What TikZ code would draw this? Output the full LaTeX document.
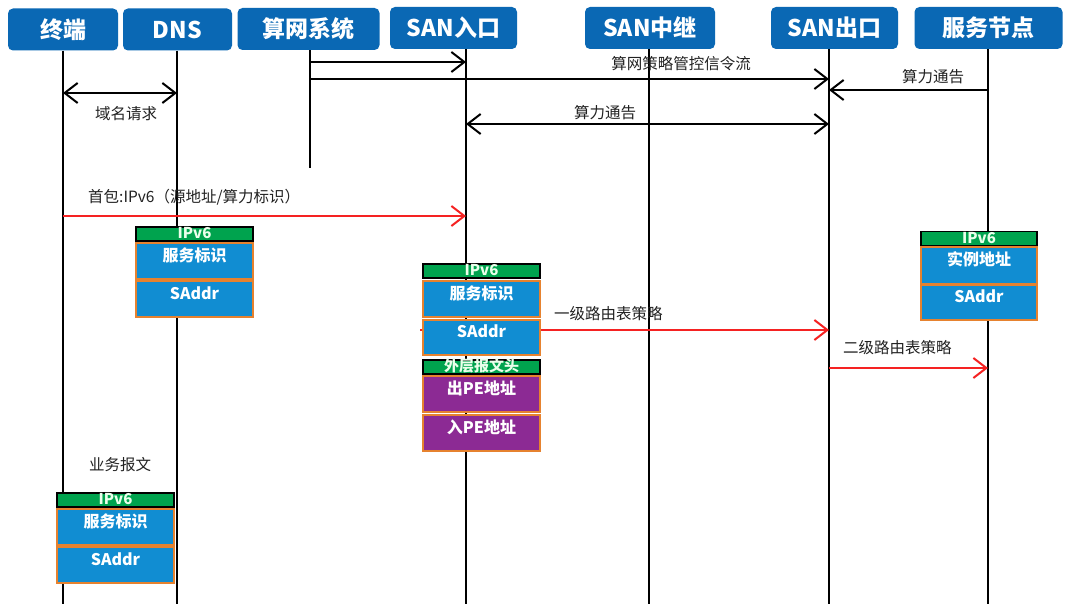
\documentclass[tikz,border=0pt]{standalone}
\usepackage{fontspec}
\setmainfont{Noto Sans CJK SC}
\usetikzlibrary{arrows.meta}
\definecolor{hdr}{HTML}{0A68B4}
\definecolor{pblue}{HTML}{118DD2}
\definecolor{porange}{HTML}{E6822F}
\definecolor{pgreen}{HTML}{00A34E}
\definecolor{ppurple}{HTML}{8C2A94}
\definecolor{pred}{HTML}{F52222}
\definecolor{lbl}{HTML}{222222}
\begin{document}
\begin{tikzpicture}[x=1pt,y=-1pt,
  hdrbox/.style={fill=hdr, rounded corners=5pt, text=white, font=\fontsize{23}{26}\selectfont\bfseries, minimum height=42pt, inner sep=0pt},
  life/.style={line width=2.2pt, black},
  msg/.style={line width=1.9pt, black, -{Straight Barb[length=13pt,width=20pt,line width=2pt]}},
  dmsg/.style={line width=1.9pt, black, {Straight Barb[length=13pt,width=20pt,line width=2pt]}-{Straight Barb[length=13pt,width=20pt,line width=2pt]}},
  rmsg/.style={line width=1.9pt, pred, -{Straight Barb[length=13pt,width=20pt,line width=2pt]}},
  lab/.style={text=lbl, font=\fontsize{15.5}{17}\selectfont, inner sep=0pt},
  gbar/.style={fill=pgreen, draw=black, line width=1.3pt, minimum height=14pt, inner sep=0pt, text=green!8!white, font=\fontsize{15}{15}\selectfont\bfseries, text height=9pt, text depth=0pt},
  bblk/.style={fill=pblue, draw=porange, line width=1.8pt, minimum height=36pt, inner sep=0pt, text=white, font=\fontsize{16}{16}\selectfont\bfseries, text height=12pt, text depth=12pt},
  vblk/.style={bblk, fill=ppurple}
]
\useasboundingbox (0,0) rectangle (1070,604);
\fill[white] (0,0) rectangle (1070,604);

% headers
\node[hdrbox, minimum width=110pt] (term) at (63,29.5) {终端};
\node[hdrbox, minimum width=109pt] (dns) at (177.5,29.5) {DNS};
\node[hdrbox, minimum width=142pt] (sys) at (308.5,29) {算网系统};
\node[hdrbox, minimum width=127pt] (sin) at (453.5,28) {SAN入口};
\node[hdrbox, minimum width=130pt] (smid) at (650,28) {SAN中继};
\node[hdrbox, minimum width=127pt] (sout) at (834.5,28) {SAN出口};
\node[hdrbox, minimum width=148pt] (svc) at (988.5,28) {服务节点};

% lifeline bottoms
\coordinate (lt) at (63,604);
\coordinate (ld) at (177,604);
\coordinate (ls) at (310,168);
\coordinate (li) at (466,604);
\coordinate (lm) at (649,604);
\coordinate (lo) at (829,604);
\coordinate (lv) at (988,604);

\draw[life] (term.south -| lt) -- (lt);
\draw[life] (dns.south -| ld) -- (ld);
\draw[life] (sys.south -| ls) -- (ls);
\draw[life] (sin.south -| li) -- (li);
\draw[life] (smid.south -| lm) -- (lm);
\draw[life] (sout.south -| lo) -- (lo);
\draw[life] (svc.south -| lv) -- (lv);

% y levels
\coordinate (y62) at (0,62);
\coordinate (y79) at (0,79);
\coordinate (y90) at (0,90);
\coordinate (y93) at (0,93);
\coordinate (y124) at (0,124);
\coordinate (y216) at (0,216);
\coordinate (y330) at (0,330);
\coordinate (y368) at (0,368);

% black messages
\draw[msg] (ls |- y62) -- (li |- y62);
\draw[msg] (ls |- y79) -- (lo |- y79);
\draw[msg] (lv |- y90) -- (lo |- y90);
\draw[dmsg] (lt |- y93) -- (ld |- y93);
\draw[dmsg] (li |- y124) -- (lo |- y124);

\node[lab] (l1) at (681,64) {算网策略管控信令流};
\node[lab] (l2) at (933,77) {算力通告};
\node[lab] (l3) at (126,114) {域名请求};
\node[lab] (l4) at (605,113) {算力通告};

% red messages
\draw[rmsg] (lt |- y216) -- (li |- y216);
\node[lab, anchor=west] (l5) at (88,197) {首包:IPv6（源地址/算力标识）};

\coordinate (rs) at (420,330);
\draw[rmsg] (rs) -- (lo |- y330);
\node[lab, anchor=west] (l6) at (554,314) {一级路由表策略};
\draw[rmsg] (lo |- y368) -- (lv |- y368);
\node[lab, anchor=west] (l7) at (843,348) {二级路由表策略};

\node[lab] (l8) at (120,465) {业务报文};

% stack 1 (DNS)
\node[gbar, minimum width=117pt] (s1h) at (194.5,234) {IPv6};
\node[bblk, minimum width=117pt] (s1a) at (194.5,261) {服务标识};
\node[bblk, minimum width=117pt] (s1b) at (194.5,299) {SAddr};

% stack 2 (SAN ingress)
\node[gbar, minimum width=117pt] (s2h) at (481.5,271) {IPv6};
\node[bblk, minimum width=117pt] (s2a) at (481.5,299) {服务标识};
\node[bblk, minimum width=117pt, minimum height=35pt] (s2b) at (481.5,337.5) {SAddr};
\node[gbar, minimum width=117pt] (s2o) at (481.5,367) {外层报文头};
\node[vblk, minimum width=117pt] (s2c) at (481.5,394) {出PE地址};
\node[vblk, minimum width=117pt] (s2d) at (481.5,433) {入PE地址};

% stack 3 (service node)
\node[gbar, minimum width=116pt] (s3h) at (979,238.5) {IPv6};
\node[bblk, minimum width=116pt, minimum height=37pt] (s3a) at (979,265.5) {实例地址};
\node[bblk, minimum width=116pt, minimum height=35pt] (s3b) at (979,302.5) {SAddr};

% stack 4 (terminal)
\node[gbar, minimum width=117pt] (s4h) at (115.5,500) {IPv6};
\node[bblk, minimum width=117pt] (s4a) at (115.5,527) {服务标识};
\node[bblk, minimum width=117pt] (s4b) at (115.5,565) {SAddr};
\end{tikzpicture}
\end{document}
